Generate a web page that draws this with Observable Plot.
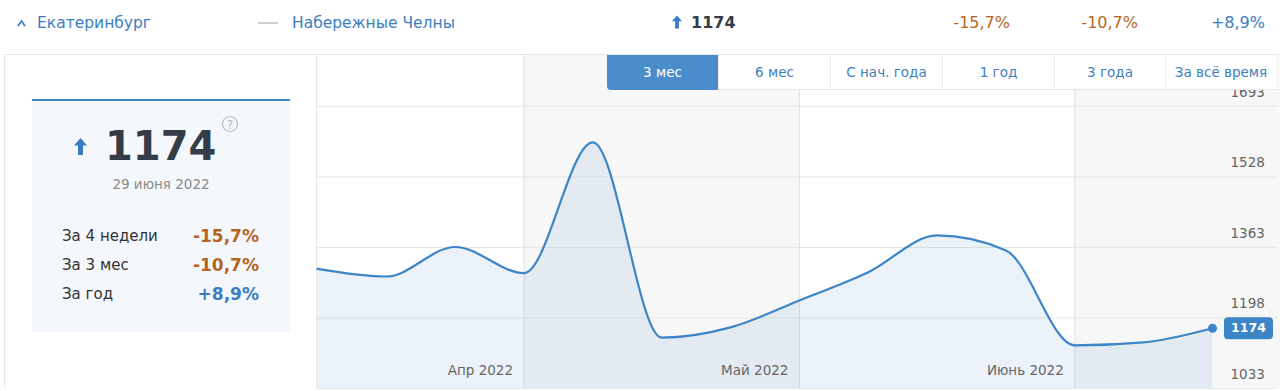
<!DOCTYPE html>
<html><head><meta charset="utf-8">
<script src="https://cdn.jsdelivr.net/npm/d3@7"></script>
<script src="https://cdn.jsdelivr.net/npm/@observablehq/plot@0.6"></script>
<style>
body{margin:0;background:#fff;font-family:"DejaVu Sans",Verdana,sans-serif;}
#root{position:relative;width:1280px;height:391px;overflow:hidden;}
.abs{position:absolute;white-space:nowrap;}
.blue{color:#3d7dbf;}
.neg{color:#b5651d;}
.pos{color:#3b7dc2;}
#panel{position:absolute;left:4px;top:54px;width:1272px;height:333px;border:1px solid #e6e6e6;border-bottom:none;box-sizing:content-box;}
#sep{position:absolute;left:316px;top:55px;width:1px;height:333px;background:#e6e6e6;}
#card{position:absolute;left:32px;top:99px;width:258px;height:233px;background:#f4f8fc;border-top:2px solid #3d85c6;box-sizing:border-box;}
#chart{position:absolute;left:317px;top:55px;}
#tabs{position:absolute;left:607px;top:55px;height:35px;display:flex;z-index:5;}
.tab{height:35px;line-height:35px;text-align:center;font-size:13.5px;color:#3f7fc0;background:#fff;border-left:1px solid #ececec;border-bottom:1px solid #e6e6e6;box-sizing:border-box;}
.tab.active{background:#4a8ccc;color:#fff;border:none;border-bottom-left-radius:4px;}
</style></head>
<body><div id="root"></div>
<script>
// ---- data ----
const cityMain = "Екатеринбург";
const cityCompare = "Набережные Челны";
const currentValue = 1174;
const currentDate = "29 июня 2022";
const periodLabels = ["За 4 недели", "За 3 мес", "За год"];
const periodChanges = ["-15,7%", "-10,7%", "+8,9%"];
const tabLabels = ["3 мес", "6 мес", "С нач. года", "1 год", "3 года", "За всё время"];
const weekDates = ["2022-03-30","2022-04-06","2022-04-13","2022-04-20","2022-04-27","2022-05-04","2022-05-11",
                   "2022-05-18","2022-05-25","2022-06-01","2022-06-08","2022-06-15","2022-06-22","2022-06-29"];
const weekValues = [1313, 1295, 1364, 1303, 1609, 1152, 1176, 1239, 1305, 1391, 1356, 1134, 1141, 1174];
const monthMarks = ["2022-04-20", "2022-05-18", "2022-06-15"];
const monthLabels = ["Апр 2022", "Май 2022", "Июнь 2022"];
const bandStarts = ["2022-04-20", "2022-06-15"];
const bandEnds = ["2022-05-18", "2022-07-06"];
const yTicks = [1033, 1198, 1363, 1528, 1693];
const yDomain = [1033, 1812];

const root = document.getElementById("root");
function el(html){ const t=document.createElement("div"); t.innerHTML=html.trim(); const n=t.firstChild; root.appendChild(n); return n; }
const cls = s => s.startsWith("+") ? "pos" : "neg";
const arrow = (w,h) => `<svg width="${w}" height="${h}" viewBox="0 0 13 17"><polygon points="6.5,0 13,7.5 9,7.5 9,17 4,17 4,7.5 0,7.5" fill="#3a7cc4"/></svg>`;

// ---- top bar ----
el(`<svg class="abs" style="left:17px;top:19px" width="10" height="8"><polyline points="1,7 4.5,2 8,7" fill="none" stroke="#3d7dbf" stroke-width="1.8"/></svg>`);
el(`<div class="abs blue" style="left:37px;top:13px;line-height:20px;font-size:15.5px">${cityMain}</div>`);
el(`<div class="abs" style="left:258px;top:22px;width:20px;height:2px;background:#cfcfcf"></div>`);
el(`<div class="abs blue" style="left:292px;top:13px;line-height:20px;font-size:15.5px">${cityCompare}</div>`);
el(`<div class="abs" style="left:672px;top:15px;line-height:0">${arrow(10,14)}</div>`);
el(`<div class="abs" style="left:691px;top:13px;line-height:20px;font-size:16px;font-weight:bold;color:#333c47">${currentValue}</div>`);
const topRights = [1010, 1138, 1265];
periodChanges.forEach((c,i)=>{
  el(`<div class="abs ${cls(c)}" style="right:${1280-topRights[i]}px;top:13px;line-height:20px;font-size:16px;text-align:right">${c}</div>`);
});

// ---- panel ----
el(`<div id="panel"></div>`);
el(`<div id="sep"></div>`);
el(`<div id="card"></div>`);
el(`<div class="abs" style="left:74px;top:138px;line-height:0">${arrow(13,17)}</div>`);
el(`<div class="abs" style="left:105px;top:122px;line-height:48px;font-size:40px;font-weight:bold;color:#333c47">${currentValue}</div>`);
el(`<svg class="abs" style="left:221px;top:115px" width="18" height="18"><circle cx="9" cy="9" r="7.5" fill="none" stroke="#bdbdbd" stroke-width="1.2"/><text x="9" y="13.5" text-anchor="middle" font-size="12" fill="#b5b5b5" font-family="DejaVu Sans">?</text></svg>`);
el(`<div class="abs" style="left:61px;width:200px;top:175px;line-height:18px;font-size:13.5px;color:#8a8a8a;text-align:center">${currentDate}</div>`);
const rowY = [236, 265, 294];
periodLabels.forEach((l,i)=>{
  el(`<div class="abs" style="left:62px;top:${rowY[i]-10}px;line-height:20px;font-size:15px;color:#333">${l}</div>`);
  el(`<div class="abs ${cls(periodChanges[i])}" style="right:${1280-259}px;top:${rowY[i]-10}px;line-height:20px;font-size:17px;font-weight:bold;text-align:right">${periodChanges[i]}</div>`);
});

// ---- tabs ----
const tabWidths = [111, 112, 112, 112, 111, 111];
el(`<div id="tabs">${tabLabels.map((t,i)=>`<div class="tab${i===0?" active":""}" style="width:${tabWidths[i]}px">${t}</div>`).join("")}</div>`);

// ---- chart ----
const parse = d => new Date(d + "T00:00:00Z");
const data = weekDates.map((d,i)=>({date: parse(d), value: weekValues[i]}));
const last = data[data.length-1];
const bands = bandStarts.map((s,i)=>({x1: parse(s), x2: parse(bandEnds[i])}));
const marks = monthMarks.map((d,i)=>({date: parse(d), label: monthLabels[i]}));

const labelBox = {draw(ctx){ const w=49,h=22,r=4,x0=-w/2,y0=-h/2;
  ctx.moveTo(x0+r,y0); ctx.lineTo(x0+w-r,y0); ctx.arcTo(x0+w,y0,x0+w,y0+r,r);
  ctx.lineTo(x0+w,y0+h-r); ctx.arcTo(x0+w,y0+h,x0+w-r,y0+h,r);
  ctx.lineTo(x0+r,y0+h); ctx.arcTo(x0,y0+h,x0,y0+h-r,r);
  ctx.lineTo(x0,y0+r); ctx.arcTo(x0,y0,x0+r,y0,r); ctx.closePath(); }};

const W = 960, H = 334, MR = 65;
const chart = Plot.plot({
  width: W, height: H,
  marginLeft: 0, marginRight: MR, marginTop: 0, marginBottom: 1,
  style: {fontFamily: "DejaVu Sans, Verdana, sans-serif", fontSize: "13px", background: "transparent", overflow: "visible"},
  x: {type: "utc", domain: [data[0].date, last.date], axis: null},
  y: {domain: yDomain, axis: null},
  marks: [
    Plot.rect(bands, {x1: "x1", x2: "x2", fill: "#f7f7f7"}),
    Plot.ruleY(yTicks, {stroke: "#e6e6e6", insetRight: -MR}),
    Plot.ruleX(marks, {x: "date", stroke: "#e2e2e2"}),
    Plot.areaY(data, {x: "date", y1: yDomain[0], y2: "value", curve: "monotone-x", fill: "#3a84c9", fillOpacity: 0.1}),
    Plot.lineY(data, {x: "date", y: "value", curve: "monotone-x", stroke: "#3d85c6", strokeWidth: 2.2}),
    Plot.dot([last], {x: "date", y: "value", r: 4.5, fill: "#3d85c6"}),
    Plot.text(yTicks, {y: d => d, text: d => String(d), frameAnchor: "right", textAnchor: "start", dx: 18, dy: -14, fill: "#666", fontSize: 13.5}),
    Plot.text(marks, {x: "date", text: "label", frameAnchor: "bottom", textAnchor: "end", dx: -11, dy: -14, fill: "#666", fontSize: 13.5}),
    Plot.dot([last], {x: "date", y: "value", symbol: labelBox, r: 5, fill: "#3d85c6", dx: 36}),
    Plot.text([last], {x: "date", y: "value", text: d => String(d.value), dx: 36, fill: "#fff", fontWeight: "bold", fontSize: 12.5})
  ]
});
chart.id = "chart";
root.appendChild(chart);
</script>
</body></html>
